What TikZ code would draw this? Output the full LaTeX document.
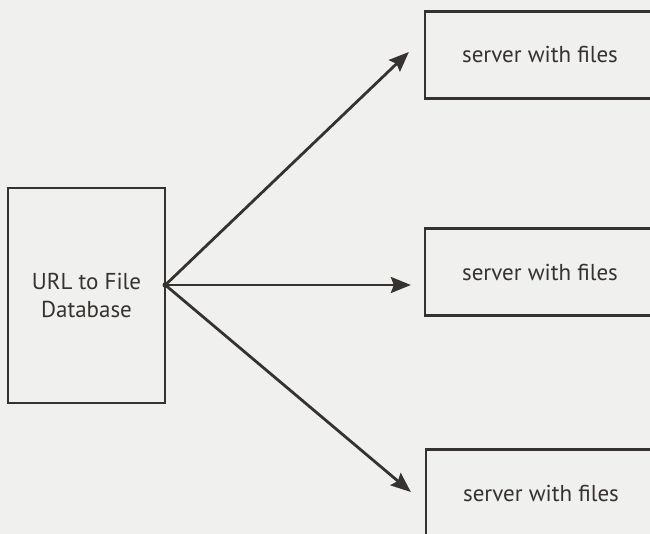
\documentclass[tikz,border=0pt]{standalone}
\usepackage{fontspec}
\setmainfont{PT Sans}
\usepackage{xcolor}
\usetikzlibrary{arrows.meta,positioning,calc}
\definecolor{scanbg}{HTML}{F0F0EE}
\definecolor{ink}{HTML}{363230}

\begin{document}
\begin{tikzpicture}[x=1pt,y=-1pt,
    dbbox/.style={draw=ink, line width=2.6pt, minimum width=157pt, minimum height=215pt, align=center, text=ink, font=\fontsize{23}{28}\selectfont},
    server/.style={draw=ink, line width=2.3pt, minimum width=230pt, minimum height=87pt, text=ink, font=\fontsize{23}{28}\selectfont},
    link/.style={draw=ink, line width=2.8pt, line cap=round, -{Stealth[length=20pt,width=16pt,inset=3pt]}}
]
\fill[scanbg] (0,0) rectangle (650,534);
\useasboundingbox (0,0) rectangle (650,534);
\clip (0,0) rectangle (650,534);

\node[dbbox] (db) at (86.5,295.5) {URL to File\\Database};
\node[server] (srv1) at (540,55) {server with files};
\node[server] (srv2) at (540,272) {server with files};
\node[server] (srv3) at (541,493) {server with files};

\coordinate (hub) at ($(db.east)+(-1,-10.5)$);
\draw[link] (hub) -- ($(srv1.west)+(-15,-3)$);
\draw[link] (hub) -- ($(hub -| srv2.west)+(-13,0)$);
\draw[link] (hub) -- ($(srv3.west)+(-14,-1)$);
\fill[ink] (hub) circle (2.8pt);
\end{tikzpicture}
\end{document}
